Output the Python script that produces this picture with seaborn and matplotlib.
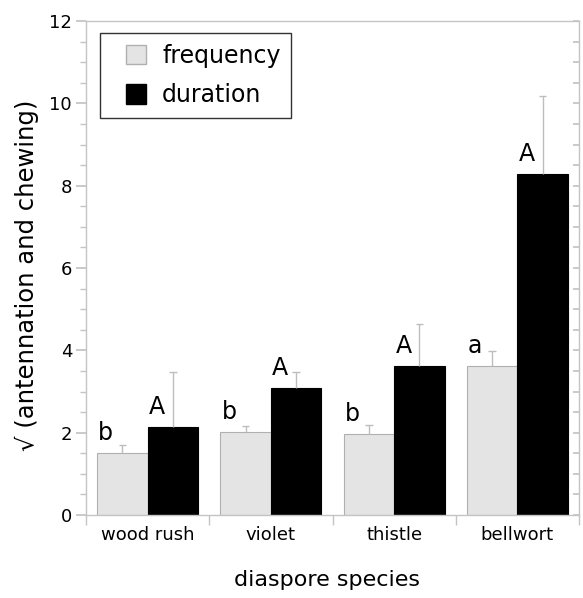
import matplotlib
matplotlib.use("Agg")
import matplotlib.pyplot as plt
import seaborn as sns
import pandas as pd
import numpy as np
from matplotlib.ticker import MultipleLocator, FixedLocator
from matplotlib.patches import Patch, Rectangle
from matplotlib.legend_handler import HandlerPatch

species = ["wood rush", "violet", "thistle", "bellwort"]
frequency = [1.50, 2.01, 1.96, 3.61]
frequency_err = [0.20, 0.15, 0.22, 0.38]
duration = [2.14, 3.08, 3.61, 8.28]
duration_err = [1.33, 0.40, 1.02, 1.91]
freq_letters = ["b", "b", "b", "a"]
dur_letters = ["A", "A", "A", "A"]

sns.set_theme(style="white")
plt.rcParams['font.family'] = ['DejaVu Sans']
plt.rcParams['text.color'] = 'black'
plt.rcParams['axes.labelcolor'] = 'black'
plt.rcParams['xtick.labelcolor'] = 'black'
plt.rcParams['ytick.labelcolor'] = 'black'

df = pd.DataFrame({
    "species": species * 2,
    "measure": ["frequency"] * 4 + ["duration"] * 4,
    "value": frequency + duration,
})

fig = plt.figure(figsize=(5.83, 5.98), dpi=100)
ax = fig.add_axes([86/583, 1-515/598, (579-86)/583, (515-21)/598])

freq_color = "#e4e4e4"
palette = {"frequency": freq_color, "duration": "#000000"}
sns.barplot(data=df, x="species", y="value", hue="measure", order=species,
            hue_order=["frequency", "duration"], palette=palette, width=0.82,
            errorbar=None, ax=ax, legend=False, saturation=1)

err_color = "#bdbdbd"
for bars, errs, letters, edge in [(ax.containers[0], frequency_err, freq_letters, "#b0b0b0"),
                                  (ax.containers[1], duration_err, dur_letters, "#000000")]:
    for patch, e, lab in zip(bars.patches, errs, letters):
        patch.set_edgecolor(edge)
        patch.set_linewidth(0.8)
        xc = patch.get_x() + patch.get_width() / 2
        top = patch.get_height()
        ax.vlines(xc, top, top + e, color=err_color, lw=1.0, zorder=1)
        ax.hlines(top + e, xc - 0.03, xc + 0.03, color=err_color, lw=1.0, zorder=1)
        ax.text(patch.get_x() + 0.01, top + 0.2, lab, fontsize=17, ha="left", va="bottom")

ax.set_ylim(0, 12)
ax.set_xlim(-0.5, 3.5)
ax.yaxis.set_major_locator(MultipleLocator(2))
ax.yaxis.set_minor_locator(MultipleLocator(0.5))
ax.xaxis.set_minor_locator(FixedLocator([-0.5, 0.5, 1.5, 2.5, 3.5]))

spine_c = "#c4c4c4"
for s in ax.spines.values():
    s.set_color(spine_c)
    s.set_linewidth(1.0)

ax.tick_params(axis="y", which="major", direction="out", length=7, color=spine_c,
               labelsize=13, left=True, pad=3)
ax.tick_params(axis="y", which="minor", direction="out", length=4, color=spine_c, left=True)
ax.tick_params(axis="x", which="major", length=0, labelsize=13, pad=8)
ax.tick_params(axis="x", which="minor", direction="out", length=7, color=spine_c, bottom=True)

ax2 = ax.twinx()
ax2.set_ylim(0, 12)
ax2.yaxis.set_major_locator(MultipleLocator(0.5))
ax2.tick_params(axis="y", direction="in", length=4, color=spine_c, labelright=False, right=True)
for s in ax2.spines.values():
    s.set_visible(False)

ax.set_xlabel("diaspore species", fontsize=16)
ax.xaxis.set_label_coords((327-86)/493, -65/494)
ax.xaxis.label.set_va("center")
ax.set_ylabel("√ (antennation and chewing)", fontsize=17.5)
ax.yaxis.set_label_coords(-(86-27)/493, 1-(275-21)/494)
ax.yaxis.label.set_va("center")


def square_patch(legend, orig_handle, xdescent, ydescent, width, height, fontsize):
    side = height
    return Rectangle((width - side - xdescent, -ydescent), side, side)


handles = [Patch(facecolor=freq_color, edgecolor="#b0b0b0", label="frequency"),
           Patch(facecolor="black", edgecolor="black", label="duration")]
leg = ax.legend(handles=handles, loc="upper left", bbox_to_anchor=(14/493, 1-12/494),
                borderaxespad=0, frameon=True, fancybox=False, fontsize=17,
                handlelength=1.5, handleheight=0.9, handletextpad=0.68,
                borderpad=0.45, labelspacing=0.66,
                handler_map={Patch: HandlerPatch(patch_func=square_patch)})
leg.get_frame().set_edgecolor("black")
leg.get_frame().set_linewidth(1.0)

fig.savefig("out.png", dpi=100)
